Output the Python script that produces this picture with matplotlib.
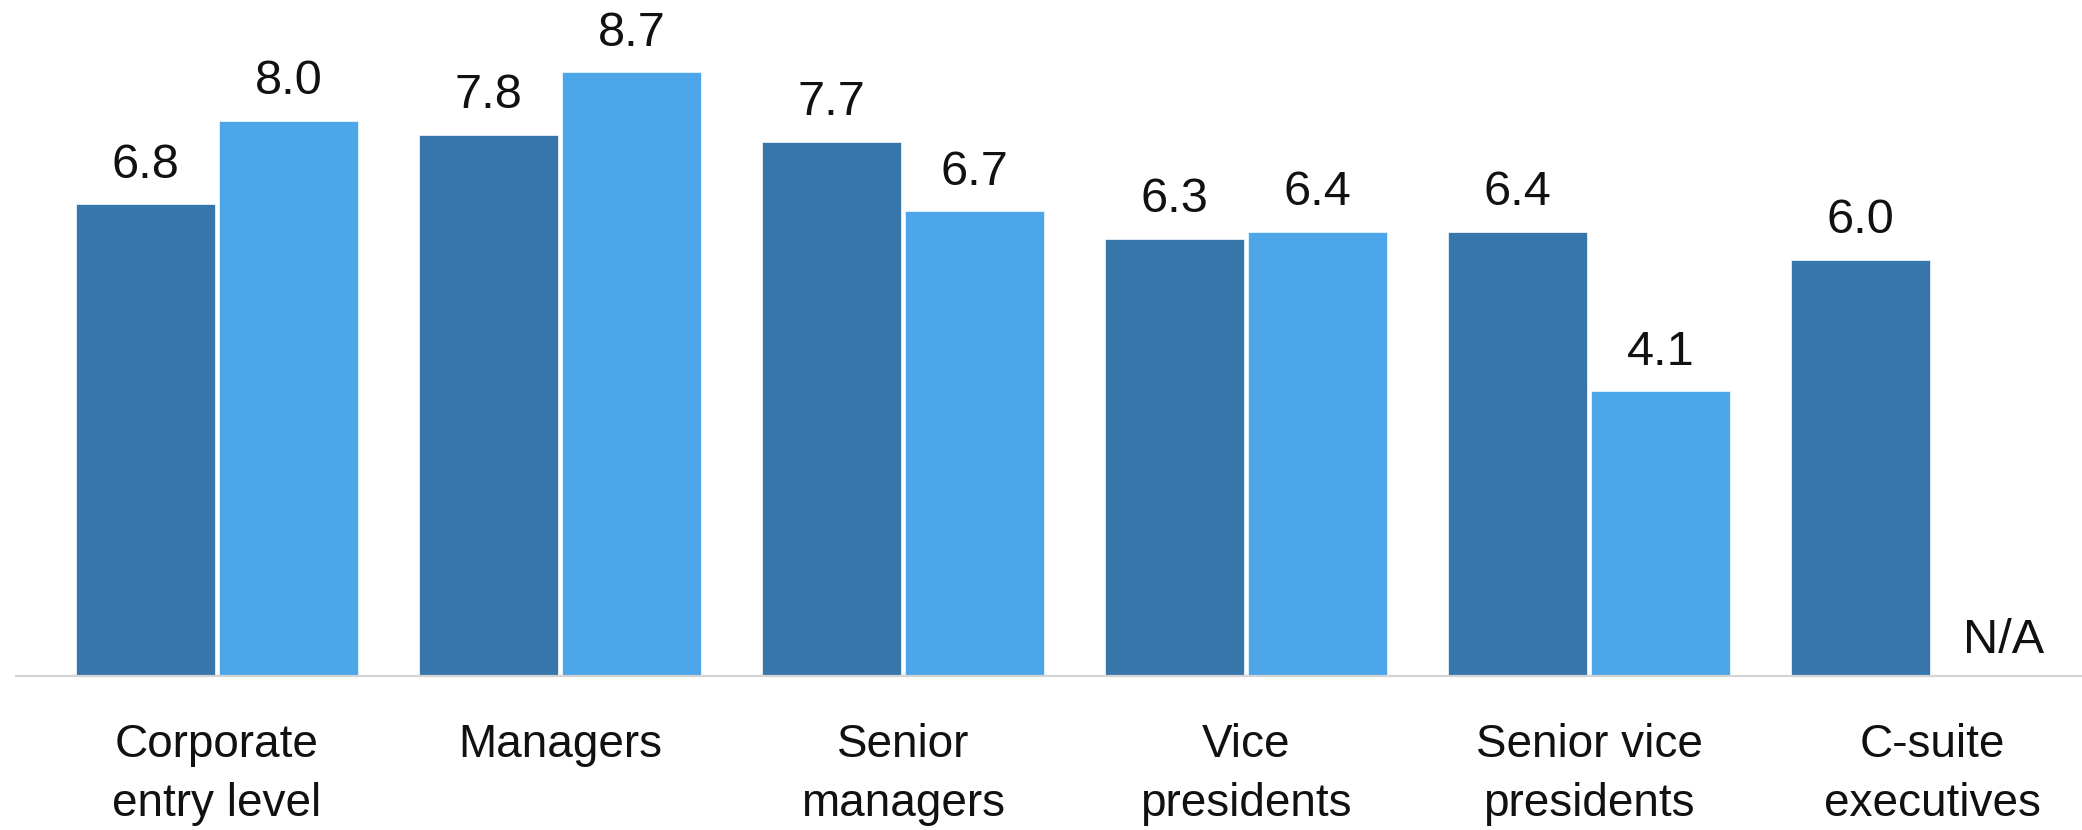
import matplotlib
matplotlib.use("Agg")
import matplotlib.pyplot as plt
import numpy as np

categories = ["Corporate\nentry level", "Managers", "Senior\nmanagers",
              "Vice\npresidents", "Senior vice\npresidents", "C-suite\nexecutives"]
series_a = [6.8, 7.8, 7.7, 6.3, 6.4, 6.0]
series_b = [8.0, 8.7, 6.7, 6.4, 4.1, None]
dark = "#3676AA"
light = "#4DA5EA"

plt.rcParams['font.family'] = ['Liberation Sans', 'DejaVu Sans']

W, H = 2082, 830
fig = plt.figure(figsize=(W / 100, H / 100), dpi=100)
ax = fig.add_axes([16 / W, (H - 676) / H, 1 - 16 / W, 676 / H])

x = np.arange(len(categories))
bw = 0.405
off = 0.2085

for i, (a, b) in enumerate(zip(series_a, series_b)):
    ax.bar(x[i] - off, a, width=bw, color=dark, edgecolor="#e8f0f8", linewidth=0.6)
    ax.annotate(f"{a:.1f}", (x[i] - off, a), xytext=(0, 19), textcoords="offset points",
                ha="center", va="baseline", fontsize=35, color="#111111")
    if b is not None:
        ax.bar(x[i] + off, b, width=bw, color=light, edgecolor="#e8f4fd", linewidth=0.6)
        ax.annotate(f"{b:.1f}", (x[i] + off, b), xytext=(0, 19), textcoords="offset points",
                    ha="center", va="baseline", fontsize=35, color="#111111")
    else:
        ax.annotate("N/A", (x[i] + off, 0), xytext=(0, 16.5), textcoords="offset points",
                    ha="center", va="baseline", fontsize=35, color="#111111")

ax.set_xlim(-0.586, 5.437)
ax.set_ylim(0, 676 / 69.4)
ax.set_xticks(x)
ax.set_xticklabels(categories, fontsize=33, color="#111111", linespacing=1.43)
ax.tick_params(axis="x", length=0, pad=34)
ax.set_yticks([])
for s in ["top", "right", "left"]:
    ax.spines[s].set_visible(False)
ax.spines["bottom"].set_color("#d4d4d4")
ax.spines["bottom"].set_linewidth(1.6)

fig.savefig("out.png", dpi=100, facecolor="white")
